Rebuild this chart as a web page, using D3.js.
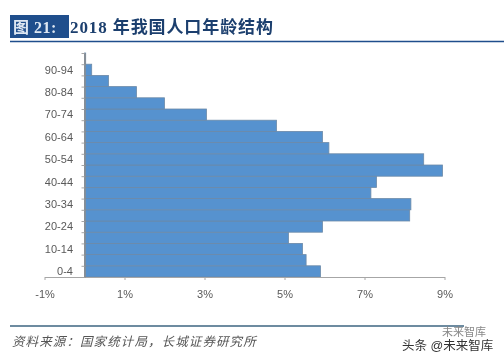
<!DOCTYPE html>
<html lang="zh">
<head>
  <meta charset="UTF-8">
  <title>2018 年我国人口年龄结构</title>
  <script src="https://d3js.org/d3.v7.min.js"></script>
  <style>
    html, body { margin: 0; padding: 0; background: #fff; }
    svg { display: block; filter: blur(0.35px); }
    text { font-family: "Liberation Sans", "Noto Sans CJK SC", sans-serif; }
    .tick-label { font-size: 11px; fill: #595959; }
  </style>
</head>
<body>
  <div id="chart"></div>

  <script>
    // bottom to top
    const ageGroups = ["0-4", "5-9", "10-14", "15-19", "20-24", "25-29", "30-34", "35-39", "40-44", "45-49",
                       "50-54", "55-59", "60-64", "65-69", "70-74", "75-79", "80-84", "85-89", "90-94", "95+"];
    const shares = [5.9, 5.54, 5.45, 5.1, 5.95, 8.13, 8.16, 7.16, 7.3, 8.95,
                    8.48, 6.11, 5.95, 4.8, 3.05, 2.0, 1.3, 0.6, 0.18, 0.03];
    const xTicks = [-1, 1, 3, 5, 7, 9];

    const svg = d3.select("#chart").append("svg")
      .attr("width", 504)
      .attr("height", 360);

    const x = d3.scaleLinear().domain([-1, 9]).range([44.5, 444.5]);
    const y = d3.scaleBand().domain(ageGroups).range([277, 53]);
    const yEdges = d3.scaleLinear().domain([0, ageGroups.length]).range([277, 53]);

    // header
    svg.append("rect").attr("x", 10).attr("y", 15).attr("width", 59).attr("height", 23).attr("fill", "#1f4e8c");
    svg.append("text").attr("x", 13).attr("y", 33)
      .attr("font-size", 16).attr("font-weight", "bold").attr("fill", "#dfe8f3")
      .attr("letter-spacing", 0.5)
      .style("font-family", '"Liberation Serif", "Noto Sans CJK SC", serif')
      .text("图 21:");
    svg.append("text").attr("x", 70).attr("y", 33)
      .attr("font-size", 17).attr("font-weight", "bold").attr("fill", "#1c3f6e")
      .attr("letter-spacing", 0.9)
      .style("font-family", '"Liberation Serif", "Noto Sans CJK SC", serif')
      .text("2018 年我国人口年龄结构");
    svg.append("line").attr("x1", 10).attr("x2", 504).attr("y1", 41.5).attr("y2", 41.5)
      .attr("stroke", "#1f4e8c").attr("stroke-width", 1.5);

    // bars
    svg.selectAll(".bar")
      .data(ageGroups)
      .enter()
      .append("rect")
      .attr("class", "bar")
      .attr("x", x(0))
      .attr("y", d => y(d))
      .attr("width", (d, i) => x(shares[i]) - x(0))
      .attr("height", y.bandwidth())
      .attr("fill", "#5692cf")
      .attr("stroke", "#6d8aa8")
      .attr("stroke-width", 0.8);

    // x axis
    const xAxis = svg.append("g")
      .attr("transform", "translate(0,277)")
      .call(d3.axisBottom(x).tickValues(xTicks).tickFormat(d => d + "%").tickSize(3).tickSizeOuter(0));
    xAxis.select(".domain").attr("stroke", "#a6a6a6");
    xAxis.selectAll(".tick line").attr("stroke", "#a6a6a6");
    xAxis.selectAll("text").attr("class", "tick-label").attr("y", 13).attr("dy", "0.71em").style("font-size", "11px");

    // y axis: ticks sit on category edges, labels on every other category
    const yAxis = svg.append("g")
      .attr("transform", `translate(${x(0)},0)`)
      .call(d3.axisLeft(yEdges).ticks(20).tickFormat("").tickSize(3).tickSizeOuter(0));
    yAxis.select(".domain").attr("stroke", "#8c8c8c").attr("stroke-width", 1.5);
    yAxis.selectAll(".tick line").attr("stroke", "#a6a6a6");

    svg.selectAll(".age-label")
      .data(ageGroups.filter((d, i) => i % 2 === 0))
      .enter()
      .append("text")
      .attr("class", "tick-label")
      .attr("x", 73)
      .attr("y", d => y(d) + y.bandwidth() / 2)
      .attr("dy", "0.35em")
      .attr("text-anchor", "end")
      .text(d => d);

    // footer
    svg.append("line").attr("x1", 10).attr("x2", 464).attr("y1", 326).attr("y2", 326)
      .attr("stroke", "#3d6480").attr("stroke-width", 1.5);
    svg.append("text").attr("x", 12).attr("y", 346)
      .attr("font-size", 12.5).attr("font-style", "italic").attr("fill", "#555")
      .attr("letter-spacing", 1.1)
      .text("资料来源：国家统计局，长城证券研究所");
    svg.append("text").attr("x", 442).attr("y", 336)
      .attr("font-size", 11).attr("fill", "#888")
      .text("未来智库");
    svg.append("text").attr("x", 402).attr("y", 349.5)
      .attr("font-size", 12.5).attr("fill", "#333")
      .text("头条 @未来智库");
  </script>
</body>
</html>
